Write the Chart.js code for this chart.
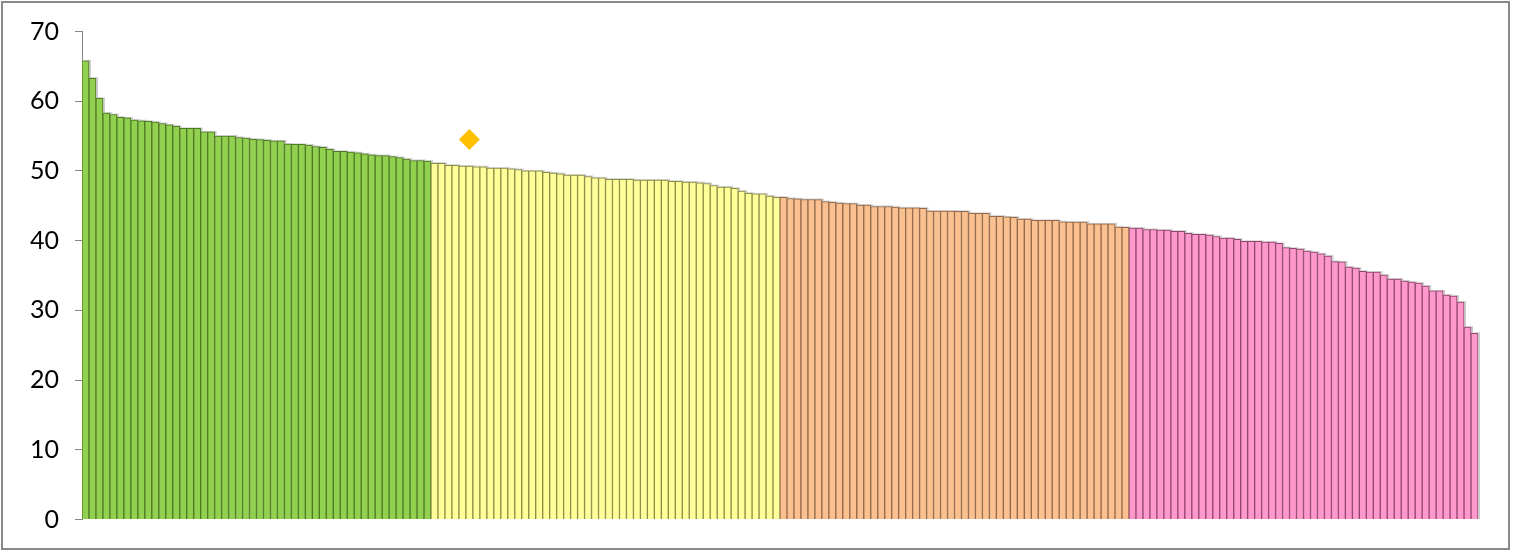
<!DOCTYPE html>
<html>
<head>
<meta charset="utf-8">
<script src="https://cdn.jsdelivr.net/npm/chart.js@4.4.0/dist/chart.umd.min.js"></script>
<style>
  html, body { margin: 0; padding: 0; background: #fff; }
  #frame {
    position: absolute; left: 1px; top: 1px;
    width: 1505px; height: 545px;
    border: 2px solid #898989;
  }
  canvas { display: block; }
</style>
</head>
<body>
<div id="frame"><canvas id="chart" width="1505" height="545"></canvas></div>
<script>
// values, sorted high to low, 50 per group
const greenValues = [
    65.8, 63.3, 60.4, 58.3, 58.1, 57.7, 57.6, 57.3, 57.2, 57.1,
    57.0, 56.8, 56.6, 56.4, 56.1, 56.1, 56.1, 55.6, 55.6, 55.0,
    55.0, 55.0, 54.8, 54.7, 54.55, 54.5, 54.4, 54.3, 54.3, 53.85,
    53.8, 53.8, 53.7, 53.5, 53.4, 53.1, 52.8, 52.8, 52.7, 52.6,
    52.45, 52.3, 52.2, 52.2, 52.05, 51.9, 51.7, 51.5, 51.5, 51.4
];
const yellowValues = [
    51.1, 51.1, 50.8, 50.8, 50.7, 50.7, 50.6, 50.6, 50.4, 50.4,
    50.4, 50.3, 50.2, 50.0, 50.0, 50.0, 49.8, 49.7, 49.6, 49.4,
    49.4, 49.4, 49.2, 49.0, 49.0, 48.8, 48.8, 48.8, 48.8, 48.7,
    48.7, 48.7, 48.7, 48.7, 48.5, 48.5, 48.4, 48.4, 48.3, 48.2,
    47.9, 47.7, 47.7, 47.5, 47.1, 46.8, 46.7, 46.7, 46.4, 46.2
];
const orangeValues = [
    46.2, 46.05, 46.0, 45.9, 45.9, 45.9, 45.6, 45.5, 45.4, 45.3,
    45.3, 45.1, 45.1, 44.9, 44.9, 44.9, 44.8, 44.7, 44.7, 44.7,
    44.65, 44.25, 44.25, 44.25, 44.25, 44.2, 44.2, 43.9, 43.9, 43.9,
    43.5, 43.5, 43.4, 43.35, 43.1, 43.1, 42.9, 42.9, 42.9, 42.9,
    42.7, 42.65, 42.65, 42.65, 42.4, 42.4, 42.4, 42.4, 41.95, 41.9
];
const pinkValues = [
    41.8, 41.8, 41.6, 41.6, 41.5, 41.5, 41.35, 41.35, 41.05, 40.9,
    40.9, 40.8, 40.6, 40.35, 40.35, 40.2, 39.9, 39.9, 39.9, 39.8,
    39.8, 39.6, 39.0, 38.9, 38.8, 38.5, 38.35, 38.1, 37.8, 37.0,
    36.95, 36.2, 36.05, 35.6, 35.5, 35.5, 35.05, 34.5, 34.5, 34.2,
    34.05, 33.9, 33.5, 32.8, 32.8, 32.2, 32.05, 31.2, 27.6, 26.7
];

const groupFills   = ['#92D050', '#FFFF99', '#FAC090', '#FF99CC'];
const groupBorders = ['#4E7A24', '#8C8C45', '#93694A', '#93466E'];

const yTickValues = [0, 10, 20, 30, 40, 50, 60, 70];

// the single diamond marker
const markerIndex = 55;
const markerValue = 54.5;

const groups = [greenValues, yellowValues, orangeValues, pinkValues];
const allValues = groups.flat();
const categories = allValues.map((_, i) => String(i + 1));

const fillColors = [];
const borderColors = [];
groups.forEach((g, gi) => {
    g.forEach(() => {
        fillColors.push(groupFills[gi]);
        borderColors.push(groupBorders[gi]);
    });
});

const markerSeries = allValues.map((_, i) => i === markerIndex ? markerValue : null);

// soft grey shadow behind each bar, like the office chart
const barShadow = {
    id: 'barShadow',
    beforeDatasetDraw(chart, args) {
        if (args.index !== 0) return;
        const ctx = chart.ctx;
        const meta = chart.getDatasetMeta(0);
        ctx.save();
        ctx.fillStyle = 'rgba(0,0,0,0.2)';
        meta.data.forEach(bar => {
            const p = bar.getProps(['x', 'y', 'base', 'width'], true);
            ctx.fillRect(p.x - p.width / 2 + 2, p.y - 1, p.width, p.base - p.y + 1);
        });
        ctx.restore();
    }
};

new Chart(document.getElementById('chart').getContext('2d'), {
    type: 'bar',
    data: {
        labels: categories,
        datasets: [{
            type: 'bar',
            data: allValues,
            backgroundColor: fillColors,
            borderColor: borderColors,
            borderWidth: 1,
            barPercentage: 1,
            categoryPercentage: 1,
            order: 1
        }, {
            type: 'line',
            data: markerSeries,
            showLine: false,
            pointStyle: 'rectRot',
            pointRadius: 10.5,
            pointBackgroundColor: '#FFC000',
            pointBorderColor: '#FFC000',
            pointBorderWidth: 0,
            order: 0
        }]
    },
    options: {
        responsive: false,
        devicePixelRatio: 1,
        animation: false,
        layout: { padding: { left: 0, right: 30, top: 28, bottom: 28 } },
        plugins: {
            legend: { display: false },
            tooltip: { enabled: false }
        },
        scales: {
            x: { display: false },
            y: {
                min: 0,
                max: 70,
                afterBuildTicks: scale => {
                    scale.ticks = yTickValues.map(v => ({ value: v }));
                },
                afterFit: scale => { scale.width = 79; },
                ticks: {
                    color: '#000',
                    padding: 16,
                    font: { family: 'Lato', size: 25, lineHeight: 1 }
                },
                grid: {
                    drawOnChartArea: false,
                    drawTicks: true,
                    tickLength: 7,
                    color: '#868686'
                },
                border: { display: true, color: '#868686', width: 1 }
            }
        }
    },
    plugins: [barShadow]
});
</script>
</body>
</html>
